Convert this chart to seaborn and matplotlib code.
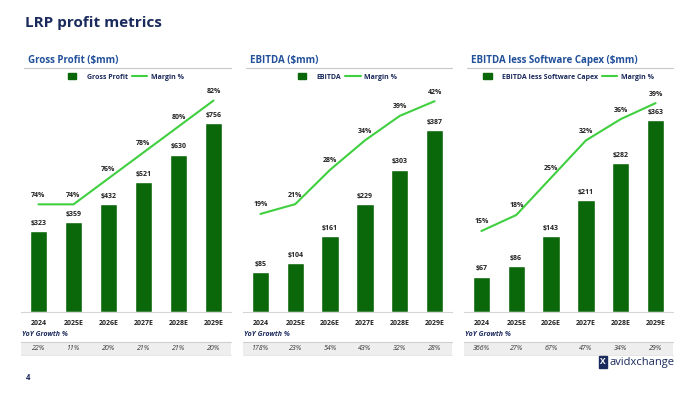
import pandas as pd
import seaborn as sns
import matplotlib
import matplotlib.pyplot as plt
from matplotlib.patches import Patch, Rectangle
from matplotlib.lines import Line2D

matplotlib.use('Agg')

# Data
years = ["2024", "2025E", "2026E", "2027E", "2028E", "2029E"]

gross_profit = [323, 359, 432, 521, 630, 756]
gross_margin = [74, 74, 76, 78, 80, 82]
gross_yoy = ["22%", "11%", "20%", "21%", "21%", "20%"]

ebitda = [85, 104, 161, 229, 303, 387]
ebitda_margin = [19, 21, 28, 34, 39, 42]
ebitda_yoy = ["178%", "23%", "54%", "43%", "32%", "28%"]

ebitda_less = [67, 86, 143, 211, 282, 363]
ebitda_less_margin = [15, 18, 25, 32, 36, 39]
ebitda_less_yoy = ["366%", "27%", "67%", "47%", "34%", "29%"]

panel_titles = ["Gross Profit ($mm)", "EBITDA ($mm)", "EBITDA less Software Capex ($mm)"]
bar_names = ["Gross Profit", "EBITDA", "EBITDA less Software Capex"]

BAR = "#0a670a"
LINE = "#3fcf3f"
NAVY = "#1b2a5c"
HEAD = "#22509a"

sns.set_theme(style="white")
plt.rcParams['font.family'] = ['Open Sans', 'DejaVu Sans']

W, H = 700, 394
fig = plt.figure(figsize=(7, 3.94), dpi=100)

fig.text(25 / W, 1 - 23 / H, "LRP profit metrics", fontsize=11, fontweight="bold",
         color=NAVY, va="center", ha="left")

panels = [
    (gross_profit, gross_margin, gross_yoy, 21, 231, 908, (65.7, 83.2)),
    (ebitda, ebitda_margin, ebitda_yoy, 243, 452, 483, (-1, 45.3)),
    (ebitda_less, ebitda_less_margin, ebitda_less_yoy, 464, 673, 429, (-0.2, 42.4)),
]

top_px, base_px = 85, 312
for i, (vals, margin, yoy, x0, x1, ymax, mlim) in enumerate(panels):
    ax = fig.add_axes([x0 / W, 1 - base_px / H, (x1 - x0) / W, (base_px - top_px) / H])
    df = pd.DataFrame({"year": years, "value": vals, "margin": margin})

    sns.barplot(data=df, x="year", y="value", color=BAR, width=0.5, ax=ax, saturation=1)
    ax.set_ylim(0, ymax)
    ax.set_xlim(-0.5, 5.5)
    ax.bar_label(ax.containers[0], labels=[f"${v}" for v in vals], padding=3,
                 fontsize=5, fontweight="bold", color="#222222")
    ax.set_xlabel("")
    ax.set_ylabel("")
    ax.set_yticks([])
    ax.tick_params(axis="x", length=0, pad=6, labelsize=5)
    for lab in ax.get_xticklabels():
        lab.set_fontweight("bold")
        lab.set_color("#222222")
    for s in ["top", "left", "right"]:
        ax.spines[s].set_visible(False)
    ax.spines["bottom"].set_color("#d5d5d5")
    ax.spines["bottom"].set_linewidth(0.8)

    ax2 = ax.twinx()
    sns.lineplot(data=df, x="year", y="margin", color=LINE, linewidth=1.5, ax=ax2, sort=False)
    ax2.set_ylim(*mlim)
    ax2.set_yticks([])
    ax2.set_ylabel("")
    for s in ax2.spines.values():
        s.set_visible(False)
    for xi, m in enumerate(margin):
        ax2.annotate(f"{m}%", (xi, m), xytext=(0, 4), textcoords="offset points",
                     ha="center", va="bottom", fontsize=5, fontweight="bold", color="#222222")

    # legend
    handles = [Patch(facecolor=BAR, edgecolor=BAR),
               Line2D([0], [0], color=LINE, linewidth=1.5)]
    leg = ax.legend(handles, [bar_names[i], "Margin %"], loc="center",
                    bbox_to_anchor=(0.5, (base_px - 77) / (base_px - top_px)), ncol=2,
                    frameon=False, handlelength=2.2, handleheight=0.9,
                    columnspacing=0.6, handletextpad=0.5, prop={"weight": "bold", "size": 5})
    for t in leg.get_texts():
        t.set_color(NAVY)
    leg.legend_handles[0].set_width(6)

    # header and underline
    fig.text((x0 + 7) / W, 1 - 60 / H, panel_titles[i], fontsize=7, fontweight="bold",
             color=HEAD, va="center", ha="left")
    fig.add_artist(Line2D([(x0 + 3) / W, x1 / W], [1 - 68 / H, 1 - 68 / H],
                          color="#c8c8c8", linewidth=0.8))

    # YoY growth row
    fig.text((x0 + 1) / W, 1 - 335 / H, "YoY Growth %", fontsize=5, fontweight="bold",
             fontstyle="italic", color=NAVY, va="center", ha="left")
    fig.add_artist(Rectangle((x0 / W, 1 - 355 / H), (x1 - x0) / W, 13 / H,
                             facecolor="#eeeeee", edgecolor="none", zorder=-1))
    fig.add_artist(Line2D([x0 / W, x1 / W], [1 - 342 / H, 1 - 342 / H],
                          color="#cfcfcf", linewidth=0.8, zorder=-1))
    fig.add_artist(Line2D([x0 / W, x1 / W], [1 - 355 / H, 1 - 355 / H],
                          color="#e2e2e2", linewidth=0.6, zorder=-1))
    step = (x1 - x0) / 6
    for xi, g in enumerate(yoy):
        fig.text((x0 + step * (xi + 0.5)) / W, 1 - 348.5 / H, g, ha="center", va="center",
                 fontsize=5, fontstyle="italic", color="#333333", zorder=5)

# page number and logo
fig.text(26 / W, 1 - 378 / H, "4", fontsize=5.5, fontweight="bold", color=NAVY, va="center")
fig.text(603 / W, 1 - 362 / H, "X", fontsize=6, fontweight="bold", color="white",
         va="center", ha="center",
         bbox=dict(boxstyle="square,pad=0.15", facecolor=NAVY, edgecolor=NAVY))
fig.text(610 / W, 1 - 362 / H, "avidxchange", fontsize=8, color=NAVY, va="center", ha="left")

fig.savefig("out.png", dpi=100, facecolor="white")
plt.close(fig)
